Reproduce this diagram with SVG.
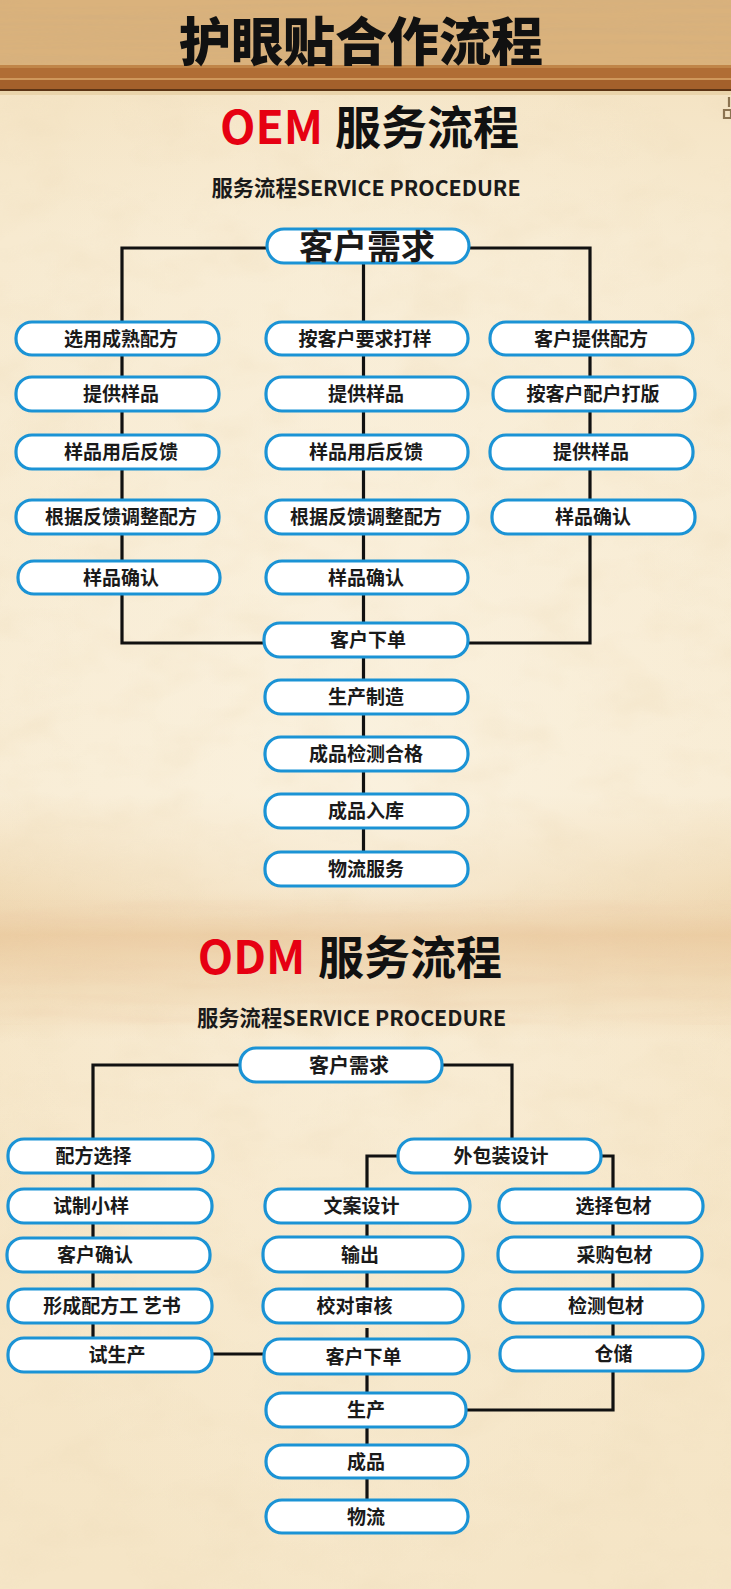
<svg xmlns="http://www.w3.org/2000/svg" width="731" height="1589" viewBox="0 0 731 1589">
<defs>
<style>
.box{fill:#ffffff;stroke:#1b93d5;stroke-width:3.2}
.t{font-family:"Noto Sans CJK SC","Noto Sans",sans-serif;font-size:19px;font-weight:700;fill:#1a1a1a;text-anchor:middle}
.ln{stroke:#111111;stroke-width:3.2;fill:none;stroke-linejoin:miter}
.h{font-family:"Noto Sans CJK SC","Noto Sans",sans-serif;font-size:46px;font-weight:700;text-anchor:middle}
.sub{font-family:"Noto Sans CJK SC","Noto Sans",sans-serif;font-size:21.3px;font-weight:700;fill:#1a1a1a;text-anchor:middle}
</style>
<linearGradient id="paperG" x1="0" y1="0" x2="0" y2="1">
<stop offset="0" stop-color="#f3e0bd"/>
<stop offset="0.15" stop-color="#f7ead0"/>
<stop offset="0.5" stop-color="#f8ecd4"/>
<stop offset="0.56" stop-color="#f0d9b3"/>
<stop offset="0.62" stop-color="#f6e6c8"/>
<stop offset="1" stop-color="#f5e5c6"/>
</linearGradient>
<radialGradient id="glow" cx="0.5" cy="0.45" r="0.6">
<stop offset="0" stop-color="#fbf3e2" stop-opacity="0.7"/>
<stop offset="1" stop-color="#fbf3e2" stop-opacity="0"/>
</radialGradient>
<linearGradient id="band" x1="0" y1="0" x2="0" y2="1">
<stop offset="0" stop-color="#e8c79a" stop-opacity="0"/>
<stop offset="0.3" stop-color="#e6bf8e" stop-opacity="0.6"/>
<stop offset="0.7" stop-color="#ecd0a6" stop-opacity="0.45"/>
<stop offset="1" stop-color="#ecd0a6" stop-opacity="0"/>
</linearGradient>
<filter id="paperTex" x="0" y="0" width="100%" height="100%">
<feTurbulence type="fractalNoise" baseFrequency="0.015 0.025" numOctaves="3" seed="7"/>
<feColorMatrix type="matrix" values="0 0 0 0 0.86  0 0 0 0 0.72  0 0 0 0 0.5  0 0 0 1.4 -0.62"/>
</filter>
<filter id="woodTex" x="0" y="0" width="100%" height="100%">
<feTurbulence type="fractalNoise" baseFrequency="0.004 0.22" numOctaves="2" seed="4"/>
<feColorMatrix type="matrix" values="0 0 0 0 0.62  0 0 0 0 0.42  0 0 0 0 0.22  0 0 0 1.5 -0.55"/>
</filter>
<filter id="bandTex" x="0" y="0" width="100%" height="100%">
<feTurbulence type="fractalNoise" baseFrequency="0.006 0.08" numOctaves="2" seed="11"/>
<feColorMatrix type="matrix" values="0 0 0 0 0.85  0 0 0 0 0.6  0 0 0 0 0.4  0 0 0 1.3 -0.5"/>
</filter>
</defs>

<!-- background -->
<rect x="0" y="0" width="731" height="1589" fill="url(#paperG)"/>
<rect x="0" y="95" width="731" height="1494" fill="url(#glow)"/>
<rect x="0" y="95" width="731" height="1494" filter="url(#paperTex)" opacity="0.5"/>
<rect x="0" y="890" width="731" height="150" fill="url(#band)"/>
<rect x="0" y="900" width="731" height="125" filter="url(#bandTex)" opacity="0.4"/>

<!-- banner -->
<rect x="0" y="0" width="731" height="66" fill="#dab27c"/>
<rect x="0" y="0" width="731" height="66" filter="url(#woodTex)" opacity="0.55"/>
<rect x="0" y="65" width="731" height="3" fill="#c08548"/>
<rect x="0" y="68" width="731" height="10" fill="#b06d35"/>
<rect x="0" y="78" width="731" height="2" fill="#cf985c"/>
<rect x="0" y="80" width="731" height="9" fill="#a3602b"/>
<rect x="0" y="89" width="731" height="2" fill="#5c3415"/>
<rect x="0" y="91" width="731" height="4" fill="#ead4ab"/>
<path d="M729,97 V107 M724,110 H731 V118 H724 Z" fill="none" stroke="#8b7350" stroke-width="2.2"/>

<text x="361" y="60.5" font-family="'Noto Sans CJK SC','Noto Sans',sans-serif" font-size="52" font-weight="900" fill="#111111" text-anchor="middle">护眼贴合作流程</text>

<!-- OEM heading -->
<text class="h" x="271.5" y="144" fill="#e60012">OEM</text>
<text class="h" x="427" y="144" fill="#111111">服务流程</text>
<text class="sub" x="366" y="196">服务流程SERVICE PROCEDURE</text>

<!-- ODM heading -->
<text class="h" x="251.5" y="974" fill="#e60012">ODM</text>
<text class="h" x="410" y="974" fill="#111111">服务流程</text>
<text class="sub" x="351.5" y="1026">服务流程SERVICE PROCEDURE</text>

<!-- connectors -->
<g id="connectors">
<path class="ln" d="M267,248 H122 V643 H264"/>
<path class="ln" d="M469,248 H590 V643 H468"/>
<path class="ln" d="M363.5,263 V852"/>
<path class="ln" d="M240,1065 H93 V1338"/>
<path class="ln" d="M212,1354 H264"/>
<path class="ln" d="M442,1065 H512 V1139"/>
<path class="ln" d="M398,1156 H367 V1323"/>
<path class="ln" d="M367,1328 V1500"/>
<path class="ln" d="M601,1156 H613 V1410 H466"/>
</g>

<!-- OEM nodes -->
<g id="oem-need"><rect class="box" x="267" y="229" width="202" height="34" rx="17"/><text class="t" x="367" y="259" style="font-size:34px">客户需求</text></g>

<g id="oem-l1"><rect class="box" x="16" y="322" width="203" height="33" rx="16"/><text class="t" x="121" y="345.5">选用成熟配方</text></g>
<g id="oem-l2"><rect class="box" x="16" y="377" width="203" height="34" rx="16"/><text class="t" x="121" y="401">提供样品</text></g>
<g id="oem-l3"><rect class="box" x="16" y="435" width="203" height="34" rx="16"/><text class="t" x="121" y="459">样品用后反馈</text></g>
<g id="oem-l4"><rect class="box" x="16" y="500" width="203" height="34" rx="16"/><text class="t" x="121" y="524">根据反馈调整配方</text></g>
<g id="oem-l5"><rect class="box" x="18" y="561" width="202" height="33" rx="16"/><text class="t" x="121" y="584.5">样品确认</text></g>

<g id="oem-m1"><rect class="box" x="266" y="322" width="202" height="33" rx="16"/><text class="t" x="365" y="345.5">按客户要求打样</text></g>
<g id="oem-m2"><rect class="box" x="266" y="377" width="202" height="34" rx="16"/><text class="t" x="366" y="401">提供样品</text></g>
<g id="oem-m3"><rect class="box" x="266" y="435" width="202" height="34" rx="16"/><text class="t" x="366" y="459">样品用后反馈</text></g>
<g id="oem-m4"><rect class="box" x="266" y="500" width="202" height="34" rx="16"/><text class="t" x="366" y="524">根据反馈调整配方</text></g>
<g id="oem-m5"><rect class="box" x="266" y="561" width="202" height="33" rx="16"/><text class="t" x="366" y="584.5">样品确认</text></g>

<g id="oem-r1"><rect class="box" x="490" y="322" width="203" height="33" rx="16"/><text class="t" x="591" y="345.5">客户提供配方</text></g>
<g id="oem-r2"><rect class="box" x="493" y="377" width="202" height="34" rx="16"/><text class="t" x="593" y="401">按客户配户打版</text></g>
<g id="oem-r3"><rect class="box" x="490" y="435" width="203" height="34" rx="16"/><text class="t" x="591" y="459">提供样品</text></g>
<g id="oem-r4"><rect class="box" x="492" y="500" width="203" height="34" rx="16"/><text class="t" x="593" y="524">样品确认</text></g>

<g id="oem-order"><rect class="box" x="264" y="623" width="204" height="34" rx="16"/><text class="t" x="368" y="647">客户下单</text></g>
<g id="oem-make"><rect class="box" x="265" y="680" width="203" height="34" rx="16"/><text class="t" x="366" y="704">生产制造</text></g>
<g id="oem-qc"><rect class="box" x="265" y="737" width="203" height="34" rx="16"/><text class="t" x="366" y="761">成品检测合格</text></g>
<g id="oem-store"><rect class="box" x="265" y="794" width="203" height="34" rx="16"/><text class="t" x="366" y="818">成品入库</text></g>
<g id="oem-ship"><rect class="box" x="265" y="852" width="203" height="34" rx="16"/><text class="t" x="366" y="876">物流服务</text></g>

<!-- ODM nodes -->
<g id="odm-need"><rect class="box" x="240" y="1048" width="202" height="34" rx="16"/><text class="t" x="349" y="1072.5" style="font-size:20px">客户需求</text></g>

<g id="odm-l1"><rect class="box" x="8" y="1139" width="205" height="34" rx="16"/><text class="t" x="93.5" y="1163">配方选择</text></g>
<g id="odm-l2"><rect class="box" x="8" y="1189" width="204" height="34" rx="16"/><text class="t" x="91" y="1213">试制小样</text></g>
<g id="odm-l3"><rect class="box" x="7" y="1238" width="203" height="34" rx="16"/><text class="t" x="95" y="1262">客户确认</text></g>
<g id="odm-l4"><rect class="box" x="8" y="1289" width="204" height="34" rx="16"/><text class="t" x="112" y="1313">形成配方工 艺书</text></g>
<g id="odm-l5"><rect class="box" x="8" y="1338" width="204" height="34" rx="16"/><text class="t" x="117" y="1362">试生产</text></g>

<g id="odm-pack"><rect class="box" x="398" y="1139" width="203" height="34" rx="16"/><text class="t" x="501" y="1163">外包装设计</text></g>

<g id="odm-m1"><rect class="box" x="265" y="1189" width="205" height="34" rx="16"/><text class="t" x="361.5" y="1213">文案设计</text></g>
<g id="odm-m2"><rect class="box" x="263" y="1237" width="200" height="35" rx="16"/><text class="t" x="360" y="1261.5">输出</text></g>
<g id="odm-m3"><rect class="box" x="263" y="1289" width="200" height="34" rx="16"/><text class="t" x="354.5" y="1313">校对审核</text></g>
<g id="odm-order"><rect class="box" x="264" y="1339" width="205" height="35" rx="16"/><text class="t" x="363.5" y="1363.5">客户下单</text></g>
<g id="odm-make"><rect class="box" x="266" y="1393" width="200" height="34" rx="16"/><text class="t" x="366" y="1417">生产</text></g>
<g id="odm-prod"><rect class="box" x="266" y="1445" width="202" height="33" rx="16"/><text class="t" x="366" y="1468.5">成品</text></g>
<g id="odm-ship"><rect class="box" x="266" y="1500" width="202" height="33" rx="16"/><text class="t" x="366" y="1523.5">物流</text></g>

<g id="odm-r1"><rect class="box" x="499" y="1189" width="204" height="34" rx="16"/><text class="t" x="613.5" y="1213">选择包材</text></g>
<g id="odm-r2"><rect class="box" x="498" y="1237" width="204" height="35" rx="16"/><text class="t" x="614.5" y="1261.5">采购包材</text></g>
<g id="odm-r3"><rect class="box" x="500" y="1289" width="203" height="34" rx="16"/><text class="t" x="606" y="1313">检测包材</text></g>
<g id="odm-r4"><rect class="box" x="500" y="1337" width="203" height="34" rx="16"/><text class="t" x="613.5" y="1361">仓储</text></g>
</svg>
